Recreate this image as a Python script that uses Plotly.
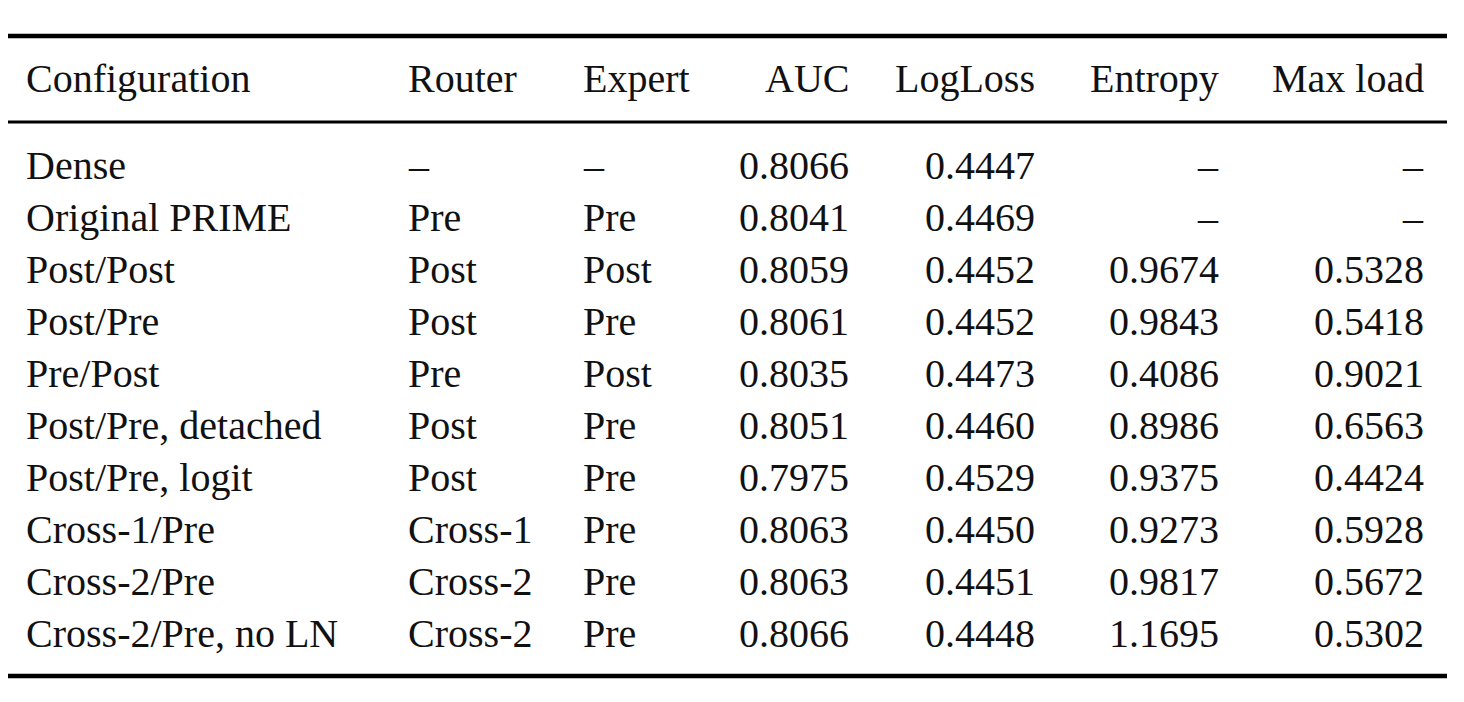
import plotly.graph_objects as go

headers = ["Configuration", "Router", "Expert", "AUC", "LogLoss", "Entropy", "Max load"]
config = ["Dense", "Original PRIME", "Post/Post", "Post/Pre", "Pre/Post", "Post/Pre, detached",
          "Post/Pre, logit", "Cross-1/Pre", "Cross-2/Pre", "Cross-2/Pre, no LN"]
router = ["–", "Pre", "Post", "Post", "Pre", "Post", "Post", "Cross-1", "Cross-2", "Cross-2"]
expert = ["–", "Pre", "Post", "Pre", "Post", "Pre", "Pre", "Pre", "Pre", "Pre"]
auc = ["0.8066", "0.8041", "0.8059", "0.8061", "0.8035", "0.8051", "0.7975", "0.8063", "0.8063", "0.8066"]
logloss = ["0.4447", "0.4469", "0.4452", "0.4452", "0.4473", "0.4460", "0.4529", "0.4450", "0.4451", "0.4448"]
entropy = ["–", "–", "0.9674", "0.9843", "0.4086", "0.8986", "0.9375", "0.9273", "0.9817", "1.1695"]
maxload = ["–", "–", "0.5328", "0.5418", "0.9021", "0.6563", "0.4424", "0.5928", "0.5672", "0.5302"]

columns = [config, router, expert, auc, logloss, entropy, maxload]
col_x = [16, 398, 573, 843, 1029, 1213, 1418]
col_anchor = ["left", "left", "left", "right", "right", "right", "right"]

FONT = dict(family="Liberation Serif, DejaVu Serif, serif", size=40, color="#111")

fig = go.Figure()
ann = []
for c, h in enumerate(headers):
    ann.append(dict(x=col_x[c], y=70, text=h, xanchor=col_anchor[c], yanchor="middle",
                    showarrow=False, font=FONT, xref="x", yref="y"))
    for r, v in enumerate(columns[c]):
        ann.append(dict(x=col_x[c], y=157 + 52 * r, text=v, xanchor=col_anchor[c], yanchor="middle",
                        showarrow=False, font=FONT, xref="x", yref="y"))

shapes = []
for y, w in [(28, 4.5), (114, 3), (668, 4.5)]:
    shapes.append(dict(type="line", x0=-3, x1=1439, y0=y, y1=y, xref="x", yref="y",
                       line=dict(color="black", width=w)))

fig.update_layout(
    width=1464, height=702, margin=dict(l=0, r=0, t=0, b=0),
    paper_bgcolor="white", plot_bgcolor="white",
    xaxis=dict(range=[0, 1464], visible=False, fixedrange=True),
    yaxis=dict(range=[702, 0], visible=False, fixedrange=True),
    annotations=ann, shapes=shapes, showlegend=False,
)
fig.write_html("out.html", config={"displayModeBar": False})
